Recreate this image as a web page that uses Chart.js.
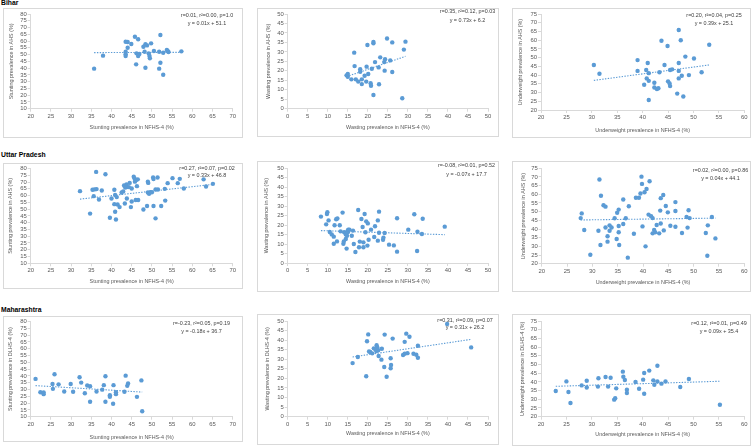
<!DOCTYPE html>
<html>
<head>
<meta charset="utf-8">
<script src="https://cdn.jsdelivr.net/npm/chart.js@4.4.1/dist/chart.umd.min.js"></script>
<style>
  body { margin: 0; background: #fff; width: 755px; height: 447px; position: relative; overflow: hidden; font-family: "Liberation Sans", Arial, sans-serif; }
  .panel { position: absolute; border: 1px solid #d9d9d9; box-sizing: border-box; }
  .panel canvas { position: absolute; left: 0; top: 0; }
  .state { position: absolute; left: 1px; font-weight: bold; font-size: 6.8px; color: #000; line-height: 8px; }
  .stat { position: absolute; width: 90px; text-align: center; font-size: 5.4px; color: #404040; line-height: 7px; white-space: nowrap; }
</style>
</head>
<body>
<div class="state" style="top:-1px">Bihar</div>
<div class="state" style="top:151px">Uttar Pradesh</div>
<div class="state" style="top:306px">Maharashtra</div>
<script>
// NFHS-4 (x) vs AHS / DLHS-4 (y), one [x, y] pair per district
const biharStunting = [[35.7,39.6],[37.9,49.2],[43.5,59.5],[44.0,59.3],[44.0,55.1],[43.5,52.1],[43.5,50.2],[43.5,49.0],[44.9,57.8],[45.8,63.2],
  [46.6,61.3],[46.1,42.8],[46.2,50.9],[46.6,49.0],[46.9,50.4],[47.9,55.8],[48.4,57.6],[48.8,56.8],[48.2,52.1],[48.4,40.3],
  [49.2,50.9],[49.4,49.0],[49.5,47.2],[49.8,58.3],[50.5,52.6],[51.8,52.1],[52.1,64.5],[52.1,44.0],[51.8,39.6],[52.8,35.1],
  [52.8,51.4],[53.7,53.4],[53.9,52.6],[54.1,51.9],[57.3,52.4]];
const biharWasting = [[14.7,17.6],[15.0,18.3],[15.0,16.9],[15.9,15.5],[16.6,29.6],[16.7,22.5],[17.0,15.5],[17.6,14.3],[18.1,20.8],[18.1,19.5],
  [18.5,15.5],[18.5,13.0],[19.2,17.4],[19.7,22.2],[19.6,14.3],[19.9,33.6],[20.1,18.3],[20.7,13.4],[20.8,12.1],[21.0,21.1],
  [21.4,35.2],[21.4,34.5],[21.4,7.2],[21.8,24.6],[22.7,21.8],[22.8,12.9],[23.1,27.1],[24.1,24.6],[24.3,26.1],[24.2,20.1],
  [24.8,37.1],[25.6,25.5],[26.1,35.0],[26.1,19.4],[28.6,5.5],[29.0,31.2],[29.4,35.4]];
const biharUnderweight = [[30.4,45.8],[31.5,40.8],[39.0,48.6],[39.0,42.4],[40.7,42.9],[40.8,38.1],[41.0,46.9],[41.2,41.1],[41.2,36.7],[40.3,34.5],
  [41.2,25.7],[42.3,35.6],[42.3,32.9],[42.8,32.0],[43.1,32.5],[43.3,41.6],[43.7,59.7],[44.3,45.8],[44.9,56.7],[45.0,36.4],
  [45.3,35.2],[45.4,33.7],[45.4,42.9],[45.8,43.3],[46.8,29.4],[47.1,65.8],[47.1,38.1],[47.1,42.4],[47.1,46.9],[47.5,60.0],
  [47.7,39.6],[48.0,27.7],[48.4,50.6],[49.1,40.0],[50.1,49.5],[51.6,41.6],[53.1,57.4]];
const upStunting = [[32.2,63.3],[34.7,46.7],[35.3,64.3],[35.8,64.6],[36.3,64.8],[35.6,59.6],[36.2,77.5],[36.9,57.1],[37.6,63.8],[38.5,75.8],
  [39.6,43.6],[40.0,57.9],[40.7,64.3],[40.9,60.4],[41.3,58.9],[40.7,53.7],[41.5,53.4],[40.9,48.1],[41.1,42.4],[42.0,51.5],
  [42.5,62.3],[42.9,63.1],[43.1,67.5],[43.4,66.0],[43.7,68.2],[43.8,66.3],[44.3,66.3],[43.8,57.9],[43.3,54.2],[44.5,69.4],
  [45.0,55.7],[44.8,51.5],[45.0,65.3],[45.5,73.9],[45.7,72.7],[45.8,70.3],[46.1,71.5],[46.5,72.0],[46.3,67.0],[46.0,56.8],
  [46.6,56.8],[47.9,49.7],[49.0,70.3],[49.1,69.4],[49.0,62.3],[49.3,61.3],[49.6,62.5],[50.0,62.5],[48.8,52.3],[50.3,73.4],
  [50.4,72.2],[51.4,73.4],[50.4,52.3],[50.9,64.5],[51.5,64.5],[50.9,43.2],[52.3,52.3],[53.3,56.3],[53.2,65.0],[53.9,69.2],
  [55.1,72.9],[56.4,69.2],[56.9,72.4],[57.9,65.3],[62.8,72.0],[63.4,66.7],[65.1,68.7]];
const upWasting = [[8.3,24.5],[9.6,20.4],[9.8,25.9],[9.9,26.8],[10.2,22.5],[10.5,16.4],[11.0,15.1],[11.5,13.9],[11.5,10.2],[11.7,19.9],
  [12.1,23.1],[12.4,23.5],[12.3,11.4],[13.0,19.9],[13.2,16.7],[13.7,26.6],[13.9,10.2],[14.0,11.4],[14.1,16.2],[14.5,15.1],
  [14.5,12.7],[14.7,7.6],[14.9,16.7],[15.0,16.2],[14.8,14.4],[15.1,17.6],[15.4,17.6],[16.0,14.4],[16.3,17.1],[16.5,10.0],
  [16.9,5.8],[17.6,28.0],[17.8,8.3],[18.0,11.3],[18.4,23.2],[18.7,19.0],[18.9,10.9],[18.9,8.3],[19.2,25.9],[19.4,16.2],
  [19.6,22.0],[20.0,20.9],[19.9,9.2],[20.2,12.3],[20.8,17.6],[21.6,13.7],[21.8,19.4],[22.5,22.5],[22.5,11.8],[22.8,27.1],
  [22.8,16.0],[23.8,12.3],[23.9,13.4],[24.2,15.8],[25.3,9.7],[26.5,9.3],[27.3,23.6],[27.3,6.0],[30.1,17.6],[31.6,25.7],
  [32.4,16.5],[32.3,6.3],[33.5,15.3],[33.7,23.4],[39.2,19.2]];
const upUnderweight = [[27.7,46.3],[27.9,49.0],[28.4,39.4],[29.6,25.2],[31.2,39.0],[31.4,68.5],[31.7,59.2],[31.6,30.8],[32.2,53.7],[32.6,52.9],
  [32.6,40.9],[33.0,35.8],[33.0,32.7],[33.4,42.1],[33.4,39.0],[33.8,40.9],[34.4,46.2],[34.8,34.2],[34.9,49.4],[35.2,51.2],
  [35.2,41.7],[35.2,38.1],[35.3,30.8],[36.1,42.9],[36.1,57.0],[36.6,46.2],[37.0,23.5],[37.2,53.1],[38.2,37.3],[38.6,58.0],
  [39.2,58.0],[39.5,60.5],[39.7,70.2],[39.8,66.0],[39.9,41.5],[40.3,61.2],[40.5,30.0],[40.7,63.1],[41.1,48.3],[41.3,67.5],
  [41.6,47.4],[41.9,46.3],[41.9,37.5],[42.2,39.4],[42.7,42.3],[42.4,38.1],[43.2,37.5],[43.4,50.6],[43.5,57.8],[43.5,43.2],
  [44.0,59.6],[44.1,39.2],[44.5,53.3],[44.9,49.6],[45.4,41.9],[46.4,55.5],[46.4,50.4],[46.4,41.3],[47.7,37.7],[48.6,46.9],
  [48.8,40.8],[49.0,50.8],[49.2,46.3],[52.4,37.7],[52.7,24.6],[52.8,42.1],[53.6,46.9],[54.3,34.6]];
const mhStunting = [[21.2,37.8],[22.4,28.0],[23.2,27.8],[23.2,26.6],[25.4,34.1],[25.5,30.5],[25.9,41.2],[26.9,33.8],[28.3,28.5],[29.9,34.1],
  [30.5,28.4],[32.1,39.0],[32.5,35.1],[33.4,27.2],[34.0,33.0],[34.7,32.4],[34.7,21.0],[36.3,28.5],[37.7,29.9],[38.1,33.2],
  [38.5,39.8],[38.5,21.0],[39.6,25.8],[39.6,24.6],[40.5,33.2],[40.4,19.5],[41.1,28.0],[41.1,26.6],[43.2,28.4],[43.5,40.2],
  [43.9,32.7],[44.1,34.4],[46.3,24.6],[47.4,36.7],[47.6,14.0]];
const mhWasting = [[16.2,28.0],[17.5,31.2],[19.6,21.1],[19.8,39.4],[20.1,43.0],[20.3,34.1],[20.6,33.8],[21.1,33.1],[21.5,35.7],[21.9,35.2],
  [22.1,34.3],[22.2,37.3],[22.4,36.1],[22.6,34.7],[22.7,31.7],[23.4,29.8],[23.5,35.5],[24.1,26.0],[24.2,42.9],[24.7,20.9],
  [25.7,30.5],[25.8,27.0],[25.7,25.3],[26.2,40.8],[28.8,32.2],[29.2,32.9],[29.2,39.1],[29.6,43.4],[29.9,33.2],[30.4,41.8],
  [31.4,32.9],[32.1,32.4],[32.5,37.1],[32.5,30.8],[39.8,48.4],[45.8,36.2]];
const mhUnderweight = [[22.9,34.8],[25.0,40.3],[25.4,34.2],[25.8,27.9],[28.0,38.0],[29.0,40.7],[29.0,36.8],[31.3,42.1],[31.2,37.3],[32.7,42.8],
  [33.2,37.3],[33.7,42.4],[34.4,29.8],[34.6,30.6],[34.8,36.3],[36.1,45.9],[36.2,43.0],[36.5,41.1],[36.9,35.5],[36.9,33.6],
  [38.6,39.9],[39.3,36.1],[40.1,41.3],[40.3,45.1],[40.3,33.2],[41.3,46.5],[42.1,40.9],[42.3,38.4],[42.9,49.3],[42.9,40.3],
  [43.7,39.0],[44.5,40.3],[47.4,37.1],[49.1,41.7],[55.2,26.9]];

// linear trendlines as printed on each panel
const trendSlope = [0.01, 0.73, 0.39, 0.33, -0.07, 0.04, -0.18, 0.31, 0.09];
const trendIntercept = [51.1, 6.2, 25.1, 46.8, 17.7, 44.1, 36.7, 26.2, 35.4];
const statLine1 = ['r=0.01, r²=0.00, p=1.0', 'r=0.35, r²=0.12, p=0.03', 'r=0.20, r²=0.04, p=0.25',
  'r=0.27, r²=0.07, p=0.02', 'r=-0.08, r²=0.01, p=0.52', 'r=0.02, r²=0.00, p=0.86',
  'r=-0.23, r²=0.05, p=0.19', 'r=0.31, r²=0.09, p=0.07', 'r=0.12, r²=0.01, p=0.49'];
const statLine2 = ['y = 0.01x + 51.1', 'y = 0.73x + 6.2', 'y = 0.39x + 25.1',
  'y = 0.33x + 46.8', 'y = -0.07x + 17.7', 'y = 0.04x + 44.1',
  'y = -0.18x + 36.7', 'y = 0.31x + 26.2', 'y = 0.09x + 35.4'];

// axis ranges: [xmin, xmax, ymin, ymax], step 5
const stuntingAxis = [20, 70, 10, 80];
const wastingAxis = [0, 50, 0, 50];
const underweightAxis = [20, 60, 20, 75];
const xTitles = ['Stunting prevalence in NFHS-4 (%)', 'Wasting prevalence in NFHS-4 (%)', 'Underweight prevalence in NFHS-4 (%)'];
const yTitlesAHS = ['Stunting prevalence in AHS (%)', 'Wasting prevalence in AHS (%)', 'Underweight prevalence in AHS (%)'];
const yTitlesDLHS = ['Stunting prevalence in DLHS-4 (%)', 'Wasting prevalence in DLHS-4 (%)', 'Underweight prevalence in DLHS-4 (%)'];

const series = [biharStunting, biharWasting, biharUnderweight, upStunting, upWasting, upUnderweight, mhStunting, mhWasting, mhUnderweight];
const axes = [stuntingAxis, wastingAxis, underweightAxis];

// page layout (px): panel frame, plot area, title positions, stat box
const boxes = [[3,8,243,138],[257,8,499,137],[512,8,751,138],[3,163,243,289],[257,161,499,292],[512,161,751,292],[3,316,243,442],[257,314,499,445],[512,314,751,446]];
const areas = [[30.7,14,232.7,108.7],[287.7,14,488,108.7],[541,14,744.3,110],[30.7,168.3,232.7,263.3],[287.7,168.3,488,263],[541.7,168.3,744.3,263.7],[30.7,321,232.7,416.7],[287.7,321,488,416.7],[541,321,744.3,416.7]];
const xTitleYs = [127.3,127.3,130.7,281.7,281.7,282.3,437.3,433.3,435];
const yTitleXs = [11.7,268.3,520.7,11,266.7,524,11,267.7,522.7];
const statPos = [[207,15,23.3],[467.5,11.7,20],[714,15,23.3],[207,168.3,175.7],[466.5,165.7,174],[720.5,170,178.3],[201.5,323.3,331],[465,320,327.3],[719,323.3,331]];

const blue = '#5b9bd5';
const axisGrey = '#d9d9d9';
const textGrey = '#595959';
const fontFamily = '"Liberation Sans", Arial, sans-serif';
const titleSize = 5.4;
const tickSize = 5.9;
const lh = titleSize * 1.2;

function makePanel(i) {
  const [bl, bt, br, bb] = boxes[i];
  const [al, at, ar, ab] = areas[i];
  const div = document.createElement('div');
  div.className = 'panel';
  div.style.left = bl + 'px';
  div.style.top = bt + 'px';
  div.style.width = (br - bl) + 'px';
  div.style.height = (bb - bt) + 'px';
  document.body.appendChild(div);

  const cl = bl + 1, ct = bt + 1;
  const cw = br - bl - 2, ch = bb - bt - 2;
  const canvas = document.createElement('canvas');
  canvas.width = cw;
  canvas.height = ch;
  canvas.style.width = cw + 'px';
  canvas.style.height = ch + 'px';
  div.appendChild(canvas);

  const kind = i % 3;
  const [xmin, xmax, ymin, ymax] = axes[kind];
  const pts = series[i];
  const xs = pts.map(p => p[0]);
  const x0 = Math.min(...xs), x1 = Math.max(...xs);
  const m = trendSlope[i], b = trendIntercept[i];
  const titleFont = { family: fontFamily, size: titleSize };
  const tickFont = { family: fontFamily, size: tickSize };

  new Chart(canvas, {
    type: 'scatter',
    data: {
      datasets: [
        {
          data: [{ x: x0, y: m * x0 + b }, { x: x1, y: m * x1 + b }],
          showLine: true,
          borderColor: blue,
          borderWidth: 1.1,
          borderDash: [1.4, 1.4],
          pointRadius: 0
        },
        {
          data: pts.map(([x, y]) => ({ x, y })),
          backgroundColor: blue,
          borderColor: blue,
          borderWidth: 0,
          pointRadius: 2.2
        }
      ]
    },
    options: {
      responsive: false,
      animation: false,
      events: [],
      layout: { padding: { left: 0, top: at - ct, right: (cl + cw) - ar, bottom: 0 } },
      plugins: { legend: { display: false }, tooltip: { enabled: false } },
      scales: {
        x: {
          type: 'linear', min: xmin, max: xmax,
          afterFit(s) { s.height = (ct + ch) - ab; },
          ticks: { stepSize: 5, autoSkip: false, maxRotation: 0, font: tickFont, color: textGrey, padding: 1 },
          grid: { drawOnChartArea: false, tickLength: 3, color: axisGrey },
          border: { color: axisGrey },
          title: { display: true, text: xTitles[kind], font: titleFont, color: textGrey,
                   padding: { top: 0, bottom: (ct + ch) - xTitleYs[i] - lh / 2 } }
        },
        y: {
          type: 'linear', min: ymin, max: ymax,
          afterFit(s) { s.width = al - cl; },
          ticks: { stepSize: 5, autoSkip: false, font: tickFont, color: textGrey, padding: 1 },
          grid: { drawOnChartArea: false, tickLength: 3, color: axisGrey },
          border: { color: axisGrey },
          title: { display: true, text: (i < 6 ? yTitlesAHS : yTitlesDLHS)[kind], font: titleFont, color: textGrey,
                   padding: { top: yTitleXs[i] - cl - lh / 2, bottom: 0 } }
        }
      }
    }
  });

  const [sx, sy1, sy2] = statPos[i];
  [[statLine1[i], sy1], [statLine2[i], sy2]].forEach(([txt, y]) => {
    const s = document.createElement('div');
    s.className = 'stat';
    s.textContent = txt;
    s.style.left = (sx - 45) + 'px';
    s.style.top = (y - 3.5) + 'px';
    document.body.appendChild(s);
  });
}

for (let i = 0; i < 9; i++) makePanel(i);
</script>
</body>
</html>
